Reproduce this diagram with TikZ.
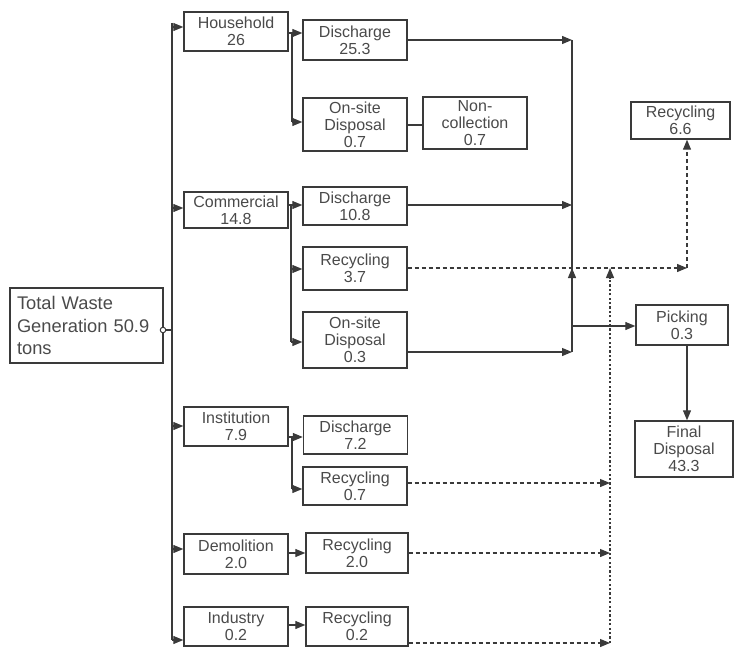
\documentclass[tikz,border=0pt]{standalone}
\usepackage{fontspec}
\setmainfont{Liberation Sans}
\usetikzlibrary{arrows.meta}
\definecolor{lc}{HTML}{3A3A3A}
\definecolor{tc}{HTML}{4A4A4A}
\begin{document}
\begin{tikzpicture}[x=1pt,y=-1pt,
 box/.style={draw=lc,line width=1.4pt,text=tc,font=\fontsize{16}{16.8}\selectfont,align=center,inner sep=0pt,minimum width=104pt},
 conn/.style={draw=lc,line width=1.2pt},
 mytip/.style={arrows={-Triangle[length=10pt,width=8pt,fill=lc]}},
 arr/.style={conn,mytip},
 dsh/.style={arr,dash pattern=on 4pt off 3pt},
 dotl/.style={conn,dash pattern=on 2.2pt off 2.2pt}]
\useasboundingbox (0,0) rectangle (735,647);
% left
\node[box,minimum width=153pt,minimum height=75pt,text width=139pt,align=left,inner xsep=7pt,font=\fontsize{18.3}{22.5}\selectfont] (tot) at (86.5,325.5) {Total Waste\\Generation 50.9\\tons};
% first column
\node[box,minimum height=39pt] (hh) at (236,31.5) {Household\\26};
\node[box,minimum height=36pt] (com) at (236,210) {Commercial\\14.8};
\node[box,minimum height=39pt] (ins) at (236,426.5) {Institution\\7.9};
\node[box,minimum height=40pt] (dem) at (236,554) {Demolition\\2.0};
\node[box,minimum height=39pt] (ind) at (236,626.5) {Industry\\0.2};
% second column
\node[box,minimum height=40pt] (d1) at (355,40) {Discharge\\25.3};
\node[box,minimum height=53pt] (os1) at (355,124.5) {On-site\\Disposal\\0.7};
\node[box,minimum height=52pt] (nc) at (475,123) {Non-\\collection\\0.7};
\node[box,minimum height=38pt] (d2) at (355,206) {Discharge\\10.8};
\node[box,minimum height=43pt] (r37) at (355,268.5) {Recycling\\3.7};
\node[box,minimum height=56pt] (os2) at (355,340) {On-site\\Disposal\\0.3};
\node[box,minimum height=38pt] (d3) at (355.5,435) {Discharge\\7.2};
\node[box,minimum height=38pt] (r07) at (355,486) {Recycling\\0.7};
\node[box,minimum width=102pt,minimum height=40pt] (r20) at (357,553) {Recycling\\2.0};
\node[box,minimum width=102pt,minimum height=39pt] (r02) at (357,626.5) {Recycling\\0.2};
% right column
\node[box,minimum width=99pt,minimum height=37pt] (rec) at (680.5,120.5) {Recycling\\6.6};
\node[box,minimum width=92pt,minimum height=40pt] (pick) at (682,325) {Picking\\0.3};
\node[box,minimum width=98pt,minimum height=56pt] (fin) at (684,449) {Final\\Disposal\\43.3};
% main trunk
\coordinate (t1) at (172,23);
\coordinate (t2) at (172,640);
\node[circle,draw=lc,fill=white,line width=1pt,inner sep=0pt,minimum size=5.5pt] (c0) at (163,330) {};
\draw[conn] (c0) -- (t1 |- c0);
\draw[conn] (t1) -- (t2);
\draw[arr] (t1 |- 0,27) -- (hh.west |- 0,27);
\draw[arr] (t1 |- 0,208) -- (com.west |- 0,208);
\draw[arr] (t1 |- 0,426) -- (ins.west |- 0,426);
\draw[arr] (t1 |- 0,549) -- (dem.west |- 0,549);
\draw[arr] (t2) -- (ind.west |- t2);
% household branch
\coordinate (h1) at (292,33);
\coordinate (h2) at (292,122);
\draw[conn] (hh.east |- h1) -- (h1) -- (h2);
\draw[arr] (h1) -- (d1.west |- h1);
\draw[arr] (h2) -- (os1.west |- h2);
\draw[conn] (os1.east |- 0,125) -- (nc.west |- 0,125);
% commercial branch
\coordinate (k1) at (291,205);
\coordinate (k2) at (291,342);
\draw[conn] (com.east |- k1) -- (k1) -- (k2);
\draw[arr] (k1) -- (d2.west |- k1);
\draw[arr] (k1 |- 0,269) -- (r37.west |- 0,269);
\draw[arr] (k2) -- (os2.west |- k2);
% institution branch
\coordinate (i1) at (292,437);
\coordinate (i2) at (292,489);
\draw[conn] (ins.east |- i1) -- (i1) -- (i2);
\draw[arr] (i1) -- (d3.west |- i1);
\draw[arr] (i2) -- (r07.west |- i2);
\draw[arr] (dem.east |- 0,553) -- (r20.west |- 0,553);
\draw[arr] (ind.east |- 0,625) -- (r02.west |- 0,625);
% right trunk
\coordinate (s1) at (572,40);
\coordinate (s2) at (572,352);
\draw[conn] (s1) -- (s2);
\draw[arr] (d1.east |- s1) -- (s1);
\draw[arr] (d2.east |- 0,205) -- (s1 |- 0,205);
\draw[arr] (os2.east |- s2) -- (s2);
\draw[arr] (s1 |- 0,326) -- (pick.west |- 0,326);
\coordinate (pk) at (687,0);
\draw[arr] (pk |- pick.south) -- (pk |- fin.north);
% recycling flows
\coordinate (rc) at (687,268);
\draw[dsh] (r37.east |- rc) -- (rc);
\draw[dsh] (rc) -- (rec.south -| rc);
\draw[arr] (s1 |- 0,280) -- (s1 |- rc);
\coordinate (v1) at (610,643);
\draw[dotl,mytip] (v1) -- (v1 |- rc);
\draw[dsh] (r07.east |- 0,483) -- (v1 |- 0,483);
\draw[dsh] (r20.east |- 0,553) -- (v1 |- 0,553);
\draw[dsh] (r02.east |- v1) -- (v1);
\end{tikzpicture}
\end{document}
